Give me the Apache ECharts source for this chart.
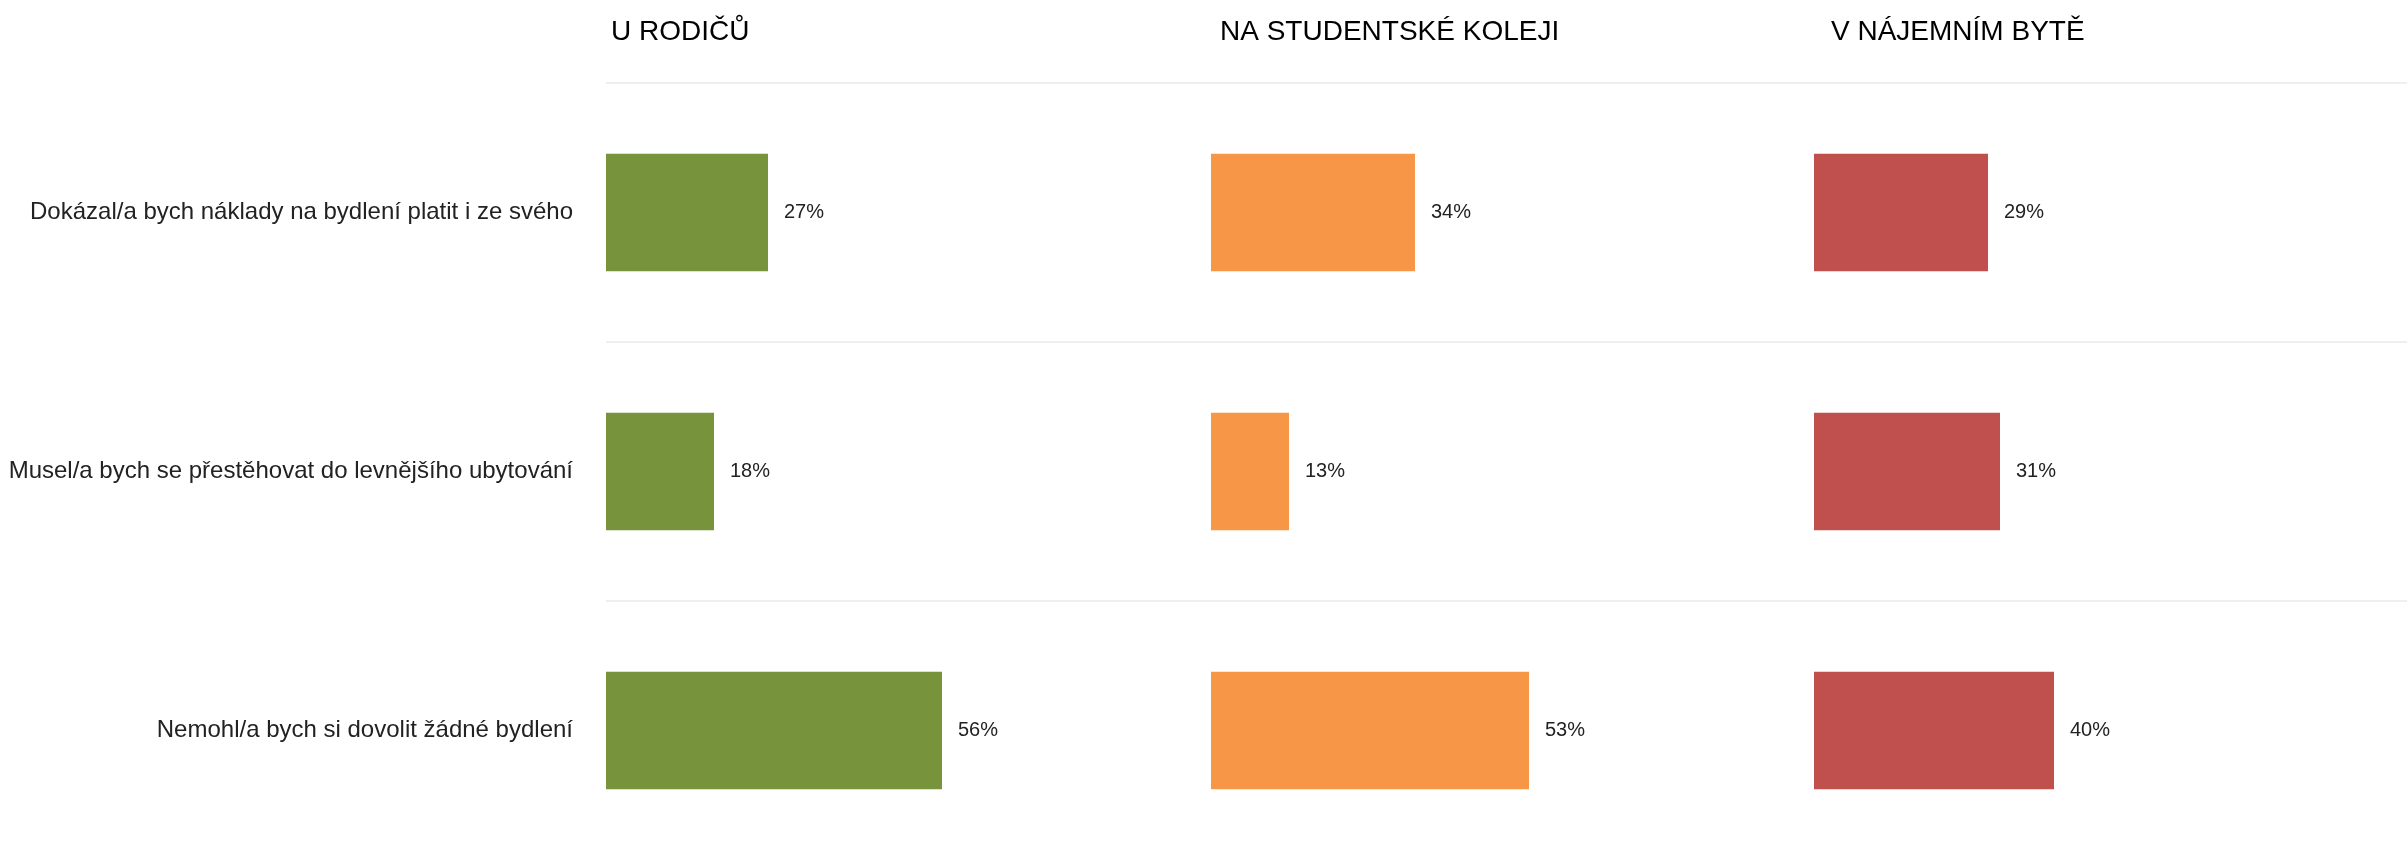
<!DOCTYPE html>
<html>
<head>
<meta charset="utf-8">
<script src="https://cdn.jsdelivr.net/npm/echarts@6/dist/echarts.min.js"></script>
<style>
  html, body { margin: 0; padding: 0; background: #ffffff; }
  #chart { width: 2407px; height: 857px; }
</style>
</head>
<body>
<div id="chart"></div>
<script>
// Answer categories (top to bottom)
const categories = [
  'Dokázal/a bych náklady na bydlení platit i ze svého',
  'Musel/a bych se přestěhovat do levnějšího ubytování',
  'Nemohl/a bych si dovolit žádné bydlení'
];

// Panel titles (where the respondent lives)
const panelTitles = ['U RODIČŮ', 'NA STUDENTSKÉ KOLEJI', 'V NÁJEMNÍM BYTĚ'];

// Shares in percent, one array per panel
const uRodicu = [27, 18, 56];
const naKoleji = [34, 13, 53];
const vNajemnimByte = [29, 31, 40];

const panelValues = [uRodicu, naKoleji, vNajemnimByte];
const panelColors = ['#77933C', '#F79646', '#C0504D'];

const fontFamily = '"Liberation Sans", Arial, Helvetica, sans-serif';

const panelLeft = [606, 1211, 1814];
const panelTitleLeft = [606, 1215, 1826];
const gridTop = 83;
const gridHeight = 777;

const grids = [];
const xAxes = [];
const yAxes = [];
const series = [];
const titles = [];

// Background grid carrying the category labels and the separators across all panels
grids.push({
  left: panelLeft[0], right: 0, top: gridTop, height: gridHeight,
  outerBoundsMode: 'none'
});
xAxes.push({ type: 'value', gridIndex: 0, show: false, min: 0, max: 100 });
yAxes.push({
  type: 'category', gridIndex: 0, data: categories, inverse: true,
  axisLine: { show: false }, axisTick: { show: false },
  axisLabel: {
    show: true, margin: 33, color: '#222222', fontSize: 24,
    fontFamily: fontFamily
  },
  splitLine: { show: true, lineStyle: { color: '#efefef', width: 2 } }
});

panelValues.forEach((vals, i) => {
  const gi = i + 1;
  grids.push({
    left: panelLeft[i], width: 600, top: gridTop, height: gridHeight,
    outerBoundsMode: 'none'
  });
  xAxes.push({ type: 'value', gridIndex: gi, min: 0, max: 100, show: false });
  yAxes.push({
    type: 'category', gridIndex: gi, data: categories, inverse: true,
    show: false
  });
  series.push({
    type: 'bar',
    name: panelTitles[i],
    xAxisIndex: gi,
    yAxisIndex: gi,
    data: vals,
    barWidth: '45.4%',
    itemStyle: { color: panelColors[i] },
    label: {
      show: true,
      position: 'right',
      distance: 16,
      formatter: '{c}%',
      color: '#222222',
      fontSize: 20,
      fontFamily: fontFamily
    },
    silent: true
  });
  titles.push({
    text: panelTitles[i],
    left: panelTitleLeft[i],
    top: 13,
    textStyle: {
      fontSize: 28, fontWeight: 'normal', color: '#000000',
      fontFamily: fontFamily
    }
  });
});

const chart = echarts.init(document.getElementById('chart'), null, { renderer: 'canvas' });
chart.setOption({
  animation: false,
  backgroundColor: '#ffffff',
  title: titles,
  grid: grids,
  xAxis: xAxes,
  yAxis: yAxes,
  series: series
});
</script>
</body>
</html>
